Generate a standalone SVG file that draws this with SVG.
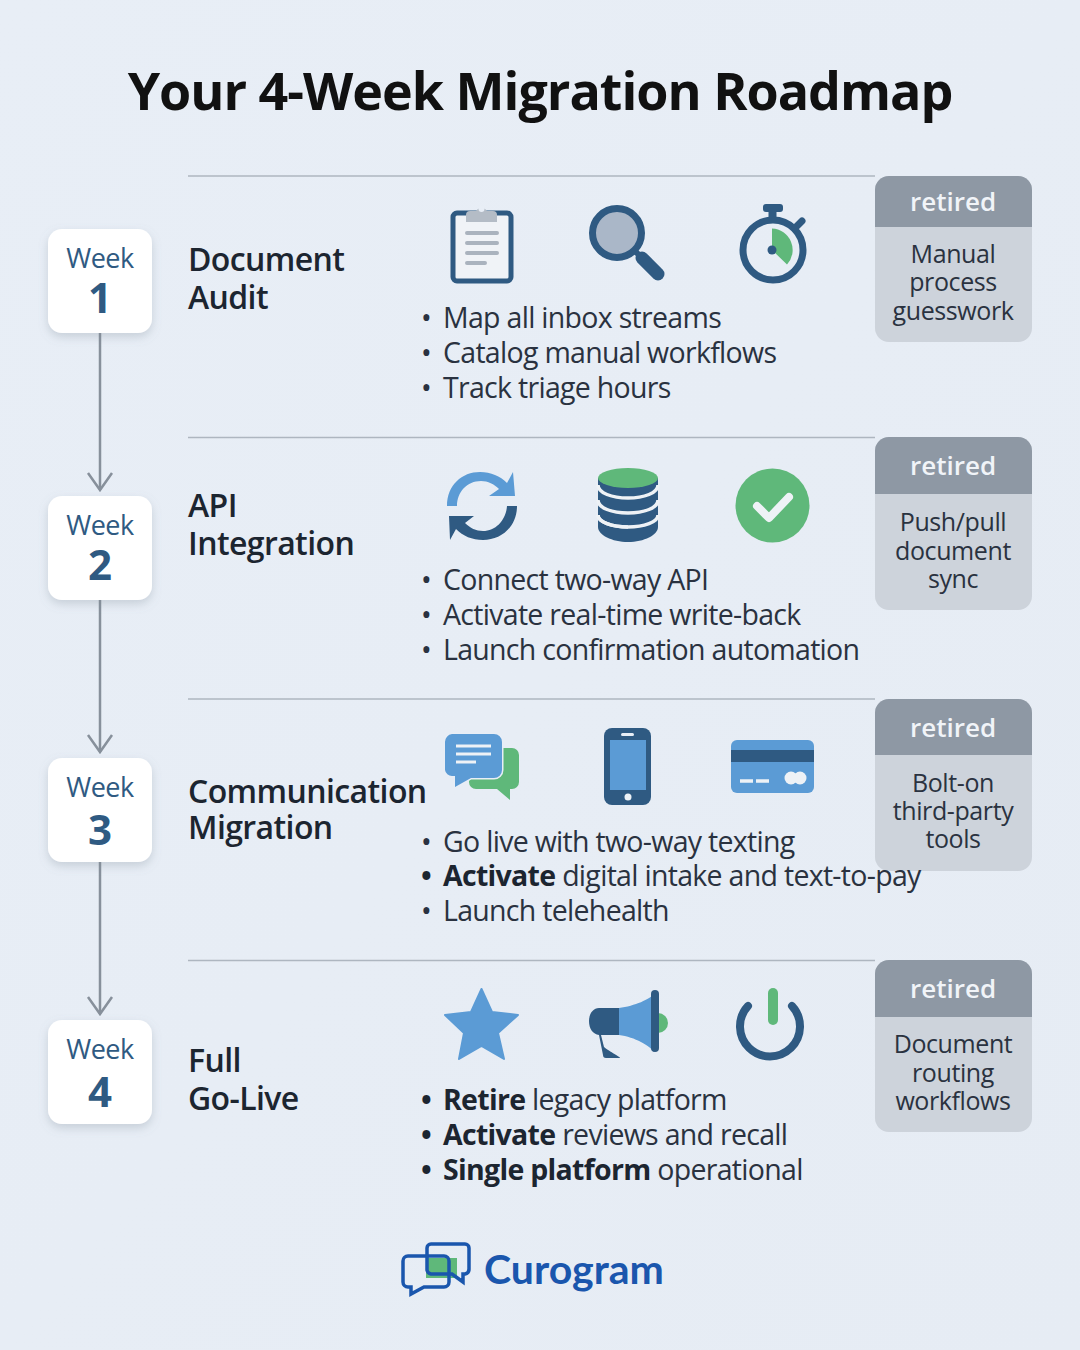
<svg xmlns="http://www.w3.org/2000/svg" width="1080" height="1350" viewBox="0 0 1080 1350">
<style>
text{font-family:"Open Sans","Liberation Sans",sans-serif}
.t{font-size:52px;font-weight:700;fill:#111;text-anchor:middle;letter-spacing:-1px}
.h{font-size:32px;font-weight:600;fill:#1c2530;letter-spacing:-.6px}
.b{font-size:28.5px;fill:#2a3240;letter-spacing:-.7px}
.bb{font-weight:700;fill:#1c2530}
.wk{font-size:27px;fill:#2f5a82;text-anchor:middle;letter-spacing:-.5px}
.n{font-size:42px;font-weight:700;fill:#2f5a82;text-anchor:middle}
.ret{font-size:26px;font-weight:600;fill:#f1f4f8;text-anchor:middle}
.rb{font-size:25px;fill:#2a3240;text-anchor:middle;letter-spacing:-.4px}
.rule{stroke:#aeb6c0;stroke-width:1.5;fill:none}
.card{fill:#fff;filter:url(#sh)}
.conn{stroke:#87909b;stroke-width:2.5;fill:none}
.nv{fill:#2f5a82}.bl{fill:#5b9bd5}.gr{fill:#5fb87a}.g{fill:#b4bcc6}
.nvs{stroke:#2f5a82;fill:none}
</style>
<defs>
<linearGradient id="bg" x1="0" y1="0" x2="1" y2="1"><stop offset="0" stop-color="#e8eef6"/><stop offset="1" stop-color="#e6ecf4"/></linearGradient>
<filter id="sh" x="-20%" y="-20%" width="140%" height="145%"><feDropShadow dx="0" dy="4" stdDeviation="5" flood-color="#7b8794" flood-opacity=".3"/></filter>
<marker id="ah" markerUnits="userSpaceOnUse" markerWidth="30" markerHeight="24" refX="13" refY="16" orient="auto-start-reverse" viewBox="0 0 26 20"><path d="M3 3 L13 16 L23 3" transform="translate(0,0)" fill="none" stroke="#87909b" stroke-width="2.5"/></marker>
</defs>
<rect width="1080" height="1350" fill="url(#bg)"/>
<text class="t" x="540" y="110">Your 4-Week Migration Roadmap</text>
<g id="rules">
<path class="rule" d="M188 176H875M188 437.500H875M188 699H875M188 960.500H875"/>
</g>
<g id="connectors">
<path class="conn" d="M100 333V490"/>
<path class="conn" d="M100 600V752"/>
<path class="conn" d="M100 862V1014"/>
<path class="conn" d="M88 473L100 490L112 473M88 735L100 752L112 735M88 997L100 1014L112 997"/>
</g>
<g id="week1"><rect class="card" x="48" y="229" width="104" height="104" rx="14"/><text class="wk" x="100" y="268">Week</text><text class="n" x="100" y="313">1</text></g>
<g id="week2"><rect class="card" x="48" y="496" width="104" height="104" rx="14"/><text class="wk" x="100" y="535">Week</text><text class="n" x="100" y="580">2</text></g>
<g id="week3"><rect class="card" x="48" y="758" width="104" height="104" rx="14"/><text class="wk" x="100" y="797">Week</text><text class="n" x="100" y="845">3</text></g>
<g id="week4"><rect class="card" x="48" y="1020" width="104" height="104" rx="14"/><text class="wk" x="100" y="1059">Week</text><text class="n" x="100" y="1107">4</text></g>

<g id="title1"><text class="h" x="188" y="271">Document</text><text class="h" x="188" y="309">Audit</text></g>
<g id="title2"><text class="h" x="188" y="517">API</text><text class="h" x="188" y="555">Integration</text></g>
<g id="title3"><text class="h" x="188" y="803">Communication</text><text class="h" x="188" y="839">Migration</text></g>
<g id="title4"><text class="h" x="188" y="1072">Full</text><text class="h" x="188" y="1110">Go-Live</text></g>

<g id="icons1">
<rect x="453" y="213" width="58" height="68" rx="4" fill="#f0f3f7" stroke="#2f5a82" stroke-width="5"/>
<path class="g" d="M466 222v-7a4 4 0 0 1 4-4h6a6.500 6.500 0 0 1 11 0h6a4 4 0 0 1 4 4v7z"/><circle cx="481.500" cy="209" r="3" fill="#e8eef6"/>
<path d="M467 233H497M467 243H497M467 253H497M467 263H485" stroke="#aab3be" stroke-width="4" stroke-linecap="round"/>
<circle cx="617" cy="233" r="24.500" fill="#aab7c8" stroke="#2f5a82" stroke-width="7"/>
<path d="M642 258L658 274" stroke="#2f5a82" stroke-width="13" stroke-linecap="round"/><path d="M636 252L644 260" stroke="#2f5a82" stroke-width="6"/>
<circle cx="773" cy="250" r="30" fill="none" stroke="#2f5a82" stroke-width="7"/>
<path class="gr" d="M772 228.500a21.500 21.500 0 0 1 15 36L772 250z"/><circle cx="772" cy="250" r="4.500" class="nv"/>
<rect x="763" y="204" width="20" height="8" rx="3" class="nv"/><rect x="768.500" y="210" width="8" height="11" class="nv"/>
<path d="M795 228L802 221" stroke="#2f5a82" stroke-width="7" stroke-linecap="round"/>
</g>
<g id="icons2">
<path class="bl" d="M447 506C447 485 462 472 480 472C491 472 500 476 507 483L513 472L515 496L489 496L499 489C494 484 488 481 481 481C467 481 457 492 457 506z"/>
<path class="nv" d="M517 506C517 527 501 540 483 540C472 540 463 536 456 529L450 540L449 516L474 516L465 523C470 528 476 531 483 531C496 531 506 520 507 506z"/>
<path class="nv" d="M598 478H658V527C658 535 644 542 628 542C612 542 598 535 598 527z"/>
<path d="M598 490C598 498 612 503 628 503C644 503 658 498 658 490M598 505C598 513 612 518 628 518C644 518 658 513 658 505M598 520C598 527 612 532 628 532" fill="none" stroke="#eef2f6" stroke-width="3.500" transform="translate(0,-5)"/>
<path d="M598 515C598 522 612 527 628 527C644 527 658 522 658 515" fill="none" stroke="#eef2f6" stroke-width="3.500"/>
<ellipse class="gr" cx="628" cy="478" rx="30" ry="10"/>
<circle class="gr" cx="772.500" cy="505.500" r="37"/>
<path d="M757 506L769 518L789 497" fill="none" stroke="#eef2f6" stroke-width="8" stroke-linecap="round" stroke-linejoin="round"/>
</g>
<g id="icons3">
<path class="gr" d="M472 748H512a7 7 0 0 1 7 7v27a7 7 0 0 1-7 7H510V800L497 789H476a7 7 0 0 1-7-7z"/>
<path class="bl" d="M452 734H494a8 8 0 0 1 8 8v28a8 8 0 0 1-8 8H471L455 787V776H452a7 7 0 0 1-7-6V742a8 8 0 0 1 7-8z" stroke="#e8eef6" stroke-width="3" paint-order="stroke"/>
<path d="M456 746H491M456 754H491M456 762H476" stroke="#eef2f6" stroke-width="3"/>
<rect class="nv" x="604" y="728" width="47" height="77" rx="8"/>
<rect class="bl" x="610" y="740" width="36" height="50"/>
<rect x="621" y="733" width="13" height="3" rx="1.500" fill="#e8eef6"/><circle cx="628" cy="797" r="3.500" fill="#eef2f6"/>
<rect class="bl" x="731" y="740" width="83" height="53" rx="6"/>
<rect class="nv" x="731" y="750" width="83" height="12"/>
<path d="M740 781H753M756 781H769" stroke="#eef2f6" stroke-width="3.500"/>
<circle cx="791" cy="778" r="6.500" fill="#eef2f6"/><circle cx="800" cy="778" r="6.500" fill="#eef2f6"/>
</g>
<g id="icons4">
<path class="bl" d="M481.500 989L492 1012L518 1015L498 1033L504 1059L481.500 1046L459 1059L464 1033L445 1015L471 1012z" stroke="#5b9bd5" stroke-width="2" stroke-linejoin="round"/>
<path class="gr" d="M658 1013a10 10 0 0 1 0 20z"/>
<path class="bl" d="M619 1008C635 1006 650 999 654 994V1052C650 1046 635 1037 619 1035z"/>
<rect class="nv" x="651" y="990" width="8" height="62" rx="4"/>
<path class="nv" d="M599 1008H619V1035H601L604 1047C607 1050 622 1058 620 1058H606C604 1058 603 1057 603 1055L599 1035C593 1034 589 1029 589 1021C589 1014 593 1008 599 1008z"/>
<path class="gr" d="M0 0" />
<rect class="gr" x="768" y="988" width="10" height="37" rx="5"/>
<path d="M748 1006A30 30 0 1 0 792 1006" fill="none" stroke="#2f5a82" stroke-width="8" stroke-linecap="round"/>
</g>

<g id="bullets1" class="b"><text class="b" x="421" y="328">•</text><text class="b" x="443" y="328">Map all inbox streams</text><text class="b" x="421" y="363">•</text><text class="b" x="443" y="363">Catalog manual workflows</text><text class="b" x="421" y="398">•</text><text class="b" x="443" y="398">Track triage hours</text></g>
<g id="bullets2"><text class="b" x="421" y="590">•</text><text class="b" x="443" y="590">Connect two-way API</text><text class="b" x="421" y="625">•</text><text class="b" x="443" y="625">Activate real-time write-back</text><text class="b" x="421" y="660">•</text><text class="b" x="443" y="660">Launch confirmation automation</text></g>

<g id="retired1"><path d="M875 190a14 14 0 0 1 14-14H1018a14 14 0 0 1 14 14V328a14 14 0 0 1-14 14H889a14 14 0 0 1-14-14z" fill="#cdd3db"/><path d="M875 190a14 14 0 0 1 14-14H1018a14 14 0 0 1 14 14V227H875z" fill="#8e98a4"/><text class="ret" x="953" y="211">retired</text><text class="rb" x="953" y="263">Manual</text><text class="rb" x="953" y="291">process</text><text class="rb" x="953" y="320">guesswork</text></g>
<g id="retired2"><path d="M875 451a14 14 0 0 1 14-14H1018a14 14 0 0 1 14 14V596a14 14 0 0 1-14 14H889a14 14 0 0 1-14-14z" fill="#cdd3db"/><path d="M875 451a14 14 0 0 1 14-14H1018a14 14 0 0 1 14 14V494H875z" fill="#8e98a4"/><text class="ret" x="953" y="475">retired</text><text class="rb" x="953" y="531">Push/pull</text><text class="rb" x="953" y="560">document</text><text class="rb" x="953" y="588">sync</text></g>
<g id="retired3"><path d="M875 713a14 14 0 0 1 14-14H1018a14 14 0 0 1 14 14V857a14 14 0 0 1-14 14H889a14 14 0 0 1-14-14z" fill="#cdd3db"/><path d="M875 713a14 14 0 0 1 14-14H1018a14 14 0 0 1 14 14V755H875z" fill="#8e98a4"/><text class="ret" x="953" y="737">retired</text><text class="rb" x="953" y="792">Bolt-on</text><text class="rb" x="953" y="820">third-party</text><text class="rb" x="953" y="848">tools</text></g>
<g id="retired4"><path d="M875 974a14 14 0 0 1 14-14H1018a14 14 0 0 1 14 14V1118a14 14 0 0 1-14 14H889a14 14 0 0 1-14-14z" fill="#cdd3db"/><path d="M875 974a14 14 0 0 1 14-14H1018a14 14 0 0 1 14 14V1017H875z" fill="#8e98a4"/><text class="ret" x="953" y="998">retired</text><text class="rb" x="953" y="1053">Document</text><text class="rb" x="953" y="1082">routing</text><text class="rb" x="953" y="1110">workflows</text></g>

<g id="bullets3"><text class="b" x="421" y="852">•</text><text class="b" x="443" y="852">Go live with two-way texting</text><text class="b bb" x="421" y="886">•</text><text class="b" x="443" y="886"><tspan class="bb">Activate</tspan> digital intake and text-to-pay</text><text class="b" x="421" y="921">•</text><text class="b" x="443" y="921">Launch telehealth</text></g>
<g id="bullets4"><text class="b bb" x="421" y="1110">•</text><text class="b" x="443" y="1110"><tspan class="bb">Retire</tspan> legacy platform</text><text class="b bb" x="421" y="1145">•</text><text class="b" x="443" y="1145"><tspan class="bb">Activate</tspan> reviews and recall</text><text class="b bb" x="421" y="1180">•</text><text class="b" x="443" y="1180"><tspan class="bb">Single platform</tspan> operational</text></g>

<g id="logo">
<rect x="426" y="1258" width="31" height="20" class="gr" fill="#5fb87a"/>
<path d="M408 1256H444a5 5 0 0 1 5 5V1282a5 5 0 0 1-5 5H424L411 1294V1287H408a5 5 0 0 1-5-5V1261a5 5 0 0 1 5-5z" fill="none" stroke="#1a56ad" stroke-width="3.500"/>
<path d="M431 1244H465a4 4 0 0 1 4 4V1269a5 5 0 0 1-4 5H463V1282L452 1274H431a5 5 0 0 1-4-4V1248a4 4 0 0 1 4-4z" fill="none" stroke="#1a56ad" stroke-width="3.500"/>
<text x="484" y="1284" font-size="41" font-weight="700" fill="#1a56ad" style="font-family:Lato,'Open Sans',sans-serif">Curogram</text>
</g>
</svg>
